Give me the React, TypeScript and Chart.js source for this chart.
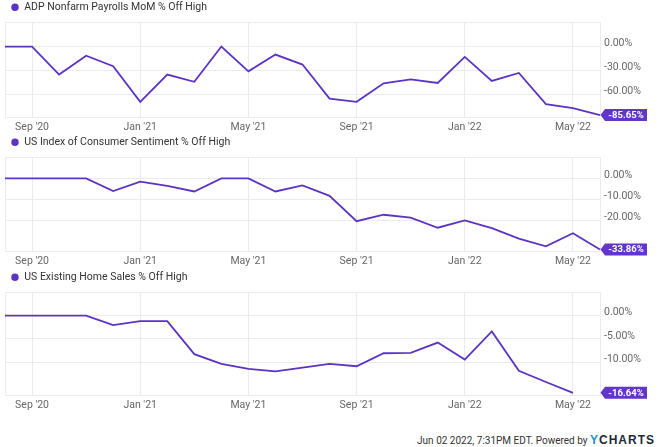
import React, { useEffect, useRef } from 'react';
import { Chart, registerables } from 'chart.js';
Chart.register(...registerables);

const months = ["Aug '20","Sep '20","Oct '20","Nov '20","Dec '20","Jan '21","Feb '21","Mar '21","Apr '21","May '21","Jun '21","Jul '21","Aug '21","Sep '21","Oct '21","Nov '21","Dec '21","Jan '22","Feb '22","Mar '22","Apr '22","May '22","Jun '22"];
const shownTicks = ["Sep '20","Jan '21","May '21","Sep '21","Jan '22","May '22"];
const adpValues = [0,0,-35,-11.5,-24.5,-69,-35,-44,0,-31,-10,-22.5,-65,-69,-46,-41,-45.5,-13,-43,-33,-72,-77,-85.65];
const sentimentValues = [0,0,0,0,-6,-1.5,-3.5,-6.2,0,0,-6.2,-3.3,-8.3,-20.4,-17.3,-18.7,-23.5,-20,-23.7,-28.7,-32.4,-26.1,-33.86];
const homeSalesValues = [0,0,0,0,-2.05,-1.16,-1.16,-8.3,-10.4,-11.45,-12,-11.2,-10.4,-10.9,-8.1,-8.0,-5.8,-9.45,-3.4,-11.9,-14.3,-16.64];

const FONT = '"Roboto", "Liberation Sans", sans-serif';
const LINE = '#5b34c2';
const BADGE = '#6236c9';
const GRID = '#ebebeb';

const panels = [
  { label: 'ADP Nonfarm Payrolls MoM % Off High', values: adpValues, min: -88, max: 30, step: 30, top: 0, height: 135 },
  { label: 'US Index of Consumer Sentiment % Off High', values: sentimentValues, min: -34.6, max: 10, step: 10, top: 135, height: 134 },
  { label: 'US Existing Home Sales % Off High', values: homeSalesValues, min: -17.1, max: 5, step: 5, top: 270, height: 143 },
];

const badgePlugin = {
  id: 'lastBadge',
  afterDraw(chart: any) {
    const data = chart.data.datasets[0].data as number[];
    const last = data[data.length - 1];
    const y = chart.scales.y.getPixelForValue(last);
    const x = chart.chartArea.right;
    const ctx = chart.ctx;
    ctx.save();
    ctx.fillStyle = BADGE;
    ctx.beginPath();
    ctx.moveTo(x + 0.5, y);
    ctx.lineTo(x + 5, y - 6);
    ctx.lineTo(x + 47, y - 6);
    ctx.lineTo(x + 47, y + 6);
    ctx.lineTo(x + 5, y + 6);
    ctx.closePath();
    ctx.fill();
    ctx.fillStyle = '#ffffff';
    ctx.font = `bold 9.5px ${FONT}`;
    ctx.textAlign = 'center';
    ctx.textBaseline = 'middle';
    ctx.fillText(last.toFixed(2) + '%', x + 26, y + 0.5);
    ctx.restore();
  },
};

function Panel({ cfg }: { cfg: typeof panels[number] }) {
  const ref = useRef<HTMLCanvasElement | null>(null);
  useEffect(() => {
    if (!ref.current) return;
    const step = cfg.step;
    const chart = new Chart(ref.current, {
      type: 'line',
      data: {
        labels: months,
        datasets: [{
          label: cfg.label,
          data: cfg.values,
          borderColor: LINE,
          backgroundColor: LINE,
          borderWidth: 1.8,
          pointRadius: 0,
          tension: 0,
          fill: false,
        }],
      },
      options: {
        animation: false,
        responsive: true,
        maintainAspectRatio: false,
        layout: { padding: { left: 5, right: 0, top: -4, bottom: 0 } },
        plugins: {
          legend: {
            display: true,
            position: 'top',
            align: 'start',
            labels: {
              usePointStyle: true,
              pointStyle: 'circle',
              boxWidth: 8,
              boxHeight: 4,
              padding: 6,
              color: '#333333',
              font: { family: FONT, size: 10.5 },
            },
          },
          tooltip: { enabled: false },
        },
        scales: {
          x: {
            type: 'category',
            offset: false,
            afterFit: (s: any) => { s.height = 18; },
            grid: {
              drawTicks: false,
              color: (c: any) => (c.index === 0 || shownTicks.includes(months[c.index])) ? GRID : 'rgba(0,0,0,0)',
            },
            border: { display: true, color: GRID },
            ticks: {
              autoSkip: false,
              maxRotation: 0,
              padding: 4,
              color: '#666666',
              font: { family: FONT, size: 10.5 },
              callback: (_v: any, i: number) => shownTicks.includes(months[i]) ? months[i] : '',
            },
          },
          y: {
            position: 'right',
            min: cfg.min,
            max: cfg.max,
            afterFit: (s: any) => { s.width = 60; },
            grid: { drawTicks: false, color: GRID },
            border: { display: true, color: GRID },
            ticks: {
              stepSize: step,
              padding: 4,
              labelOffset: -3,
              color: '#666666',
              font: { family: FONT, size: 10.5 },
              callback: (v: any) => {
                const n = Number(v);
                const r = n / step;
                if (n > 0 || Math.abs(r - Math.round(r)) > 1e-6) return '';
                return (n === 0 ? 0 : n).toFixed(2) + '%';
              },
            },
          },
        },
      },
      plugins: [badgePlugin],
    } as any);
    return () => chart.destroy();
  }, [cfg]);
  return (
    <div style={{ position: 'absolute', left: 0, top: cfg.top, width: 660, height: cfg.height }}>
      <canvas ref={ref} />
    </div>
  );
}

export default function App() {
  useEffect(() => {
    document.body.style.margin = '0';
  }, []);
  return (
    <div style={{ position: 'absolute', left: 0, top: 0, width: 660, height: 447, overflow: 'hidden', background: '#ffffff' }}>
      {panels.map((p) => <Panel key={p.label} cfg={p} />)}
      <div style={{ position: 'absolute', right: 5, top: 433, fontFamily: FONT, fontSize: 10, color: '#333333', whiteSpace: 'nowrap', lineHeight: '14px' }}>
        Jun 02 2022, 7:31PM EDT. Powered by{' '}
        <span style={{ fontFamily: '"Liberation Sans", Arial, sans-serif', fontWeight: 'bold', fontSize: 12, letterSpacing: 1 }}>
          <span style={{ color: '#1f8fd6' }}>Y</span><span style={{ color: '#1d2a3a' }}>CHARTS</span>
        </span>
      </div>
    </div>
  );
}
